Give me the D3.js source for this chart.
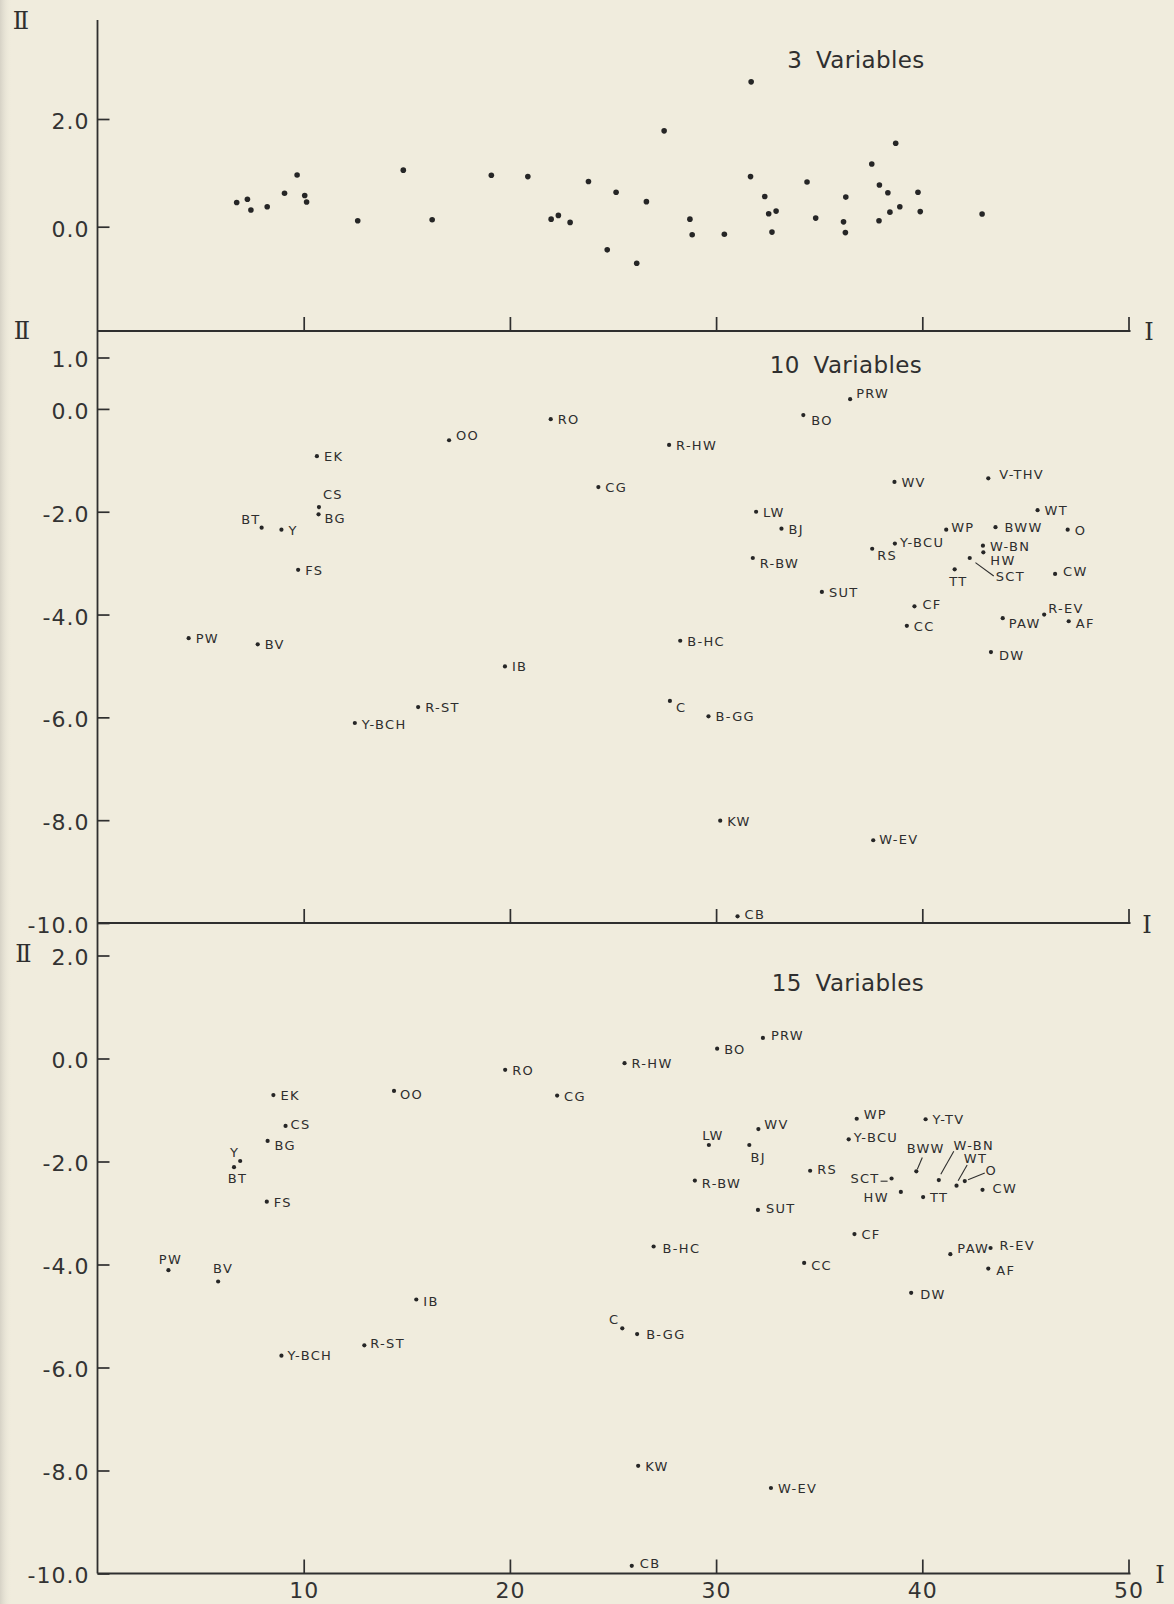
<!DOCTYPE html>
<html>
<head>
<meta charset="utf-8">
<script src="https://cdn.jsdelivr.net/npm/d3@7"></script>
<style>
  html, body { margin: 0; padding: 0; background: #f0ecdd; }
  svg { display: block; }
  .ink { color: #2f2f2f; }
  .axis-line { stroke: #2f2f2f; stroke-width: 1.8; fill: none; }
  .tick line { stroke-width: 1.7; }
  .tick text { font-family: "DejaVu Sans", sans-serif; font-size: 22px; letter-spacing: 1px; fill: #333; }
  .title { font-family: "DejaVu Sans", sans-serif; font-size: 23px; fill: #2f2f2f; word-spacing: 6px; letter-spacing: 0.4px; }
  .roman { font-family: "DejaVu Serif", "Liberation Serif", serif; font-size: 24px; fill: #2f2f2f; }
  .lbl { font-family: "DejaVu Sans", sans-serif; font-size: 13px; letter-spacing: 1.3px; fill: #2e2e2e; }
  .dot { fill: #262626; }
  .leader { stroke: #2e2e2e; stroke-width: 1.1; }
</style>
</head>
<body>
<svg id="chart" width="1174" height="1604"></svg>
<script>
// Ordination scores of the stands on axes I and II,
// computed from 3, 10 and 15 site variables.

// 3 variables (unlabelled stands)
const scores3I  = [6.75, 7.27, 7.44, 8.23, 9.07, 9.68, 10.05, 10.14, 12.62, 14.83,
                   16.23, 19.10, 20.87, 22.00, 22.35, 22.92, 23.81, 25.15, 24.72, 26.15,
                   26.62, 27.48, 28.73, 28.84, 30.40, 31.70, 31.67, 32.36, 32.55, 32.91,
                   32.71, 34.41, 34.83, 36.29, 36.18, 36.27, 37.55, 37.92, 38.71, 38.33,
                   37.90, 38.43, 38.91, 39.79, 39.90, 42.90];
const scores3II = [0.45, 0.51, 0.31, 0.37, 0.62, 0.96, 0.58, 0.46, 0.11, 1.05,
                   0.13, 0.955, 0.93, 0.14, 0.21, 0.08, 0.84, 0.64, -0.43, -0.68,
                   0.465, 1.78, 0.14, -0.15, -0.14, 2.69, 0.93, 0.56, 0.24, 0.29,
                   -0.10, 0.83, 0.16, 0.55, 0.09, -0.11, 1.165, 0.775, 1.55, 0.63,
                   0.11, 0.27, 0.37, 0.64, 0.28, 0.236];

// 10 variables
const stands10 = ["EK", "CS", "BG", "BT", "Y", "FS", "OO", "RO", "PW", "BV",
                  "CG", "PRW", "BO", "R-HW", "WV", "V-THV", "LW", "BJ", "R-BW", "SUT",
                  "RS", "Y-BCU", "WP", "BWW", "WT", "O", "W-BN", "HW", "SCT", "TT",
                  "CW", "CF", "CC", "PAW", "R-EV", "AF", "B-HC", "DW", "IB", "R-ST",
                  "Y-BCH", "C", "B-GG", "KW", "W-EV", "CB"];
const scores10I  = [10.64, 10.74, 10.72, 7.96, 8.92, 9.73, 17.05, 21.98, 4.42, 7.77,
                    24.29, 36.50, 34.23, 27.72, 38.65, 43.20, 31.94, 33.17, 31.78, 35.13,
                    37.57, 38.67, 41.16, 43.55, 45.59, 47.05, 42.94, 42.96, 42.30, 41.57,
                    46.44, 39.62, 39.25, 43.90, 45.91, 47.10, 28.26, 43.33, 19.76, 15.55,
                    12.48, 27.76, 29.63, 30.20, 37.62, 31.04];
const scores10II = [-0.92, -1.91, -2.05, -2.31, -2.35, -3.13, -0.61, -0.20, -4.46, -4.58,
                    -1.52, 0.19, -0.12, -0.70, -1.42, -1.35, -2.00, -2.33, -2.90, -3.56,
                    -2.72, -2.62, -2.35, -2.30, -1.97, -2.35, -2.66, -2.79, -2.90, -3.12,
                    -3.21, -3.84, -4.22, -4.07, -4.00, -4.13, -4.51, -4.73, -5.01, -5.80,
                    -6.11, -5.68, -5.98, -8.01, -8.39, -9.87];

// 15 variables
const stands15 = ["EK", "CS", "BG", "Y", "BT", "FS", "OO", "RO", "CG", "PW",
                  "BV", "IB", "R-ST", "Y-BCH", "PRW", "BO", "R-HW", "WP", "Y-TV", "WV",
                  "LW", "BJ", "Y-BCU", "RS", "R-BW", "SUT", "SCT", "HW", "TT", "BWW",
                  "W-BN", "WT", "O", "CW", "CF", "B-HC", "PAW", "R-EV", "CC", "AF",
                  "DW", "C", "B-GG", "KW", "W-EV", "CB"];
const scores15I  = [8.53, 9.12, 8.25, 6.92, 6.62, 8.21, 14.38, 19.77, 22.29, 3.44,
                    5.85, 15.46, 12.94, 8.92, 32.27, 30.05, 25.56, 36.82, 40.16, 32.05,
                    29.65, 31.61, 36.43, 34.56, 28.97, 32.03, 38.51, 38.96, 40.04, 39.71,
                    40.80, 41.66, 42.06, 42.92, 36.71, 26.97, 41.36, 43.31, 34.27, 43.20,
                    39.46, 25.45, 26.17, 26.22, 32.66, 25.91];
const scores15II = [-0.71, -1.31, -1.60, -1.99, -2.11, -2.78, -0.63, -0.22, -0.72, -4.11,
                    -4.33, -4.68, -5.57, -5.77, 0.40, 0.19, -0.09, -1.17, -1.18, -1.37,
                    -1.68, -1.68, -1.57, -2.18, -2.37, -2.94, -2.33, -2.59, -2.69, -2.19,
                    -2.36, -2.47, -2.38, -2.55, -3.41, -3.65, -3.80, -3.68, -3.97, -4.08,
                    -4.55, -5.24, -5.35, -7.91, -8.34, -9.85];

// Axis ticks and titles
const xTickValues = [10, 20, 30, 40, 50];
const yTicks3  = [2, 0];
const yTicks10 = [1, 0, -2, -4, -6, -8, -10];
const yTicks15 = [2, 0, -2, -4, -6, -8, -10];
const panelTitles = ["3 Variables", "10 Variables", "15 Variables"];
const axisNameI = "I";
const axisNameII = "\u2161";

// Label placement: [dx, dy, anchor] relative to the point (default to the right)
const place10 = {
  "CS": [4, -8], "BG": [6, 9], "BT": [-1, -4, "end"], "OO": [7, 0], "PRW": [6, -1],
  "BO": [8, 10], "V-THV": [11, 1], "R-BW": [7, 10], "RS": [5, 11], "Y-BCU": [5, 3],
  "WP": [5, 2], "BWW": [9, 5], "HW": [7, 13], "SCT": [26, 23], "TT": [3.6, 17, "middle"],
  "CW": [8, 2], "CF": [8, 3], "PAW": [6, 10], "R-EV": [4, -2], "AF": [7, 7],
  "DW": [8, 8], "Y-BCH": [7, 6], "C": [6, 11], "CB": [7, 3], "W-EV": [6, 4]
};
const leaders10 = { "SCT": [5.7, 4.6, 24, 18] };

const place15 = {
  "CS": [5, 3], "BG": [7, 9], "Y": [-1, -4, "end"], "BT": [3.6, 16, "middle"], "OO": [6, 8],
  "PW": [2, -6, "middle"], "BV": [5, -8, "middle"], "IB": [7, 6], "R-ST": [6, 3], "Y-BCH": [6, 4],
  "PRW": [8, 2], "WP": [7, 0], "WV": [6, 0], "LW": [4, -5, "middle"], "BJ": [9, 17, "middle"],
  "Y-BCU": [5, 3], "RS": [7, 3], "R-BW": [7, 7], "SUT": [8, 3], "SCT": [-12, 5, "end"],
  "HW": [-12, 10, "end"], "BWW": [9.4, -18, "middle"], "W-BN": [35, -30, "middle"],
  "WT": [19, -22.7, "middle"], "O": [20.7, -6], "CW": [10, 3], "B-HC": [9, 7], "PAW": [7, -1],
  "R-EV": [9, 2], "CC": [7, 7], "AF": [8, 6], "DW": [9, 6], "C": [-3, -4, "end"],
  "B-GG": [9, 5], "CB": [8, 2]
};
const leaders15 = {
  "SCT": [-11, 2.7, -4, 2.7], "BWW": [6, -13.7, 1, -2], "W-BN": [2, -5.7, 15, -28.7],
  "WT": [1.6, -5, 10.6, -20.7], "O": [3.3, -1.3, 20, -8]
};

const svg = d3.select("#chart");

// faint darker edge along the left side of the sheet
const defs = svg.append("defs");
const grad = defs.append("linearGradient").attr("id", "edge").attr("x1", 0).attr("x2", 1);
grad.append("stop").attr("offset", 0).attr("stop-color", "#d6d2c6");
grad.append("stop").attr("offset", 1).attr("stop-color", "#f0ecdd").attr("stop-opacity", 0);
svg.append("rect").attr("width", 1174).attr("height", 1604).attr("fill", "#f0ecdd");
svg.append("rect").attr("width", 12).attr("height", 1604).attr("fill", "url(#edge)");

const x = d3.scaleLinear().domain([0, 50]).range([97.5, 1128.5]);

const panels = [
  { title: panelTitles[0], I: scores3I, II: scores3II, names: null, ticks: yTicks3,
    y: d3.scaleLinear().domain([0, 2]).range([226.7, 119]), top: 20, bottom: 331,
    titleX: 856, titleY: 68, r: 2.8, xLabels: false,
    romanII: [21, 29], romanI: [1149, 340] },
  { title: panelTitles[1], I: scores10I, II: scores10II, names: stands10, ticks: yTicks10,
    y: d3.scaleLinear().domain([-10, 1]).range([923, 357.5]), top: 331, bottom: 923,
    titleX: 846, titleY: 373, r: 2.1, xLabels: false, place: place10, leaders: leaders10,
    romanII: [22, 339], romanI: [1147, 933] },
  { title: panelTitles[2], I: scores15I, II: scores15II, names: stands15, ticks: yTicks15,
    y: d3.scaleLinear().domain([-10, 2]).range([1573.5, 955.5]), top: 923, bottom: 1573.5,
    titleX: 848, titleY: 991, r: 2.1, xLabels: true, place: place15, leaders: leaders15,
    romanII: [23.5, 962], romanI: [1160, 1583] }
];

panels.forEach(p => {
  const g = svg.append("g").attr("class", "ink");

  // axis II (vertical) and axis I (horizontal)
  g.append("line").attr("class", "axis-line")
    .attr("x1", x(0)).attr("x2", x(0)).attr("y1", p.top).attr("y2", p.bottom);
  g.append("line").attr("class", "axis-line")
    .attr("x1", x(0)).attr("x2", x(50) + 2).attr("y1", p.bottom).attr("y2", p.bottom);

  const yAxis = d3.axisLeft(p.y).tickValues(p.ticks).tickSize(-12).tickPadding(8)
    .tickFormat(d => d.toFixed(1));
  g.append("g").attr("transform", `translate(${x(0)},0)`).call(yAxis)
    .call(a => a.select(".domain").remove())
    .call(a => a.selectAll("text").attr("dy", "0.43em"))
    .attr("font-family", null).attr("font-size", null);

  const xAxis = d3.axisBottom(x).tickValues(xTickValues).tickSize(-14).tickPadding(9)
    .tickFormat(p.xLabels ? d3.format("d") : () => "");
  g.append("g").attr("transform", `translate(0,${p.bottom})`).call(xAxis)
    .call(a => a.select(".domain").remove())
    .attr("font-family", null).attr("font-size", null);

  // axis names
  g.append("text").attr("class", "roman").attr("text-anchor", "middle")
    .attr("x", p.romanII[0]).attr("y", p.romanII[1]).text(axisNameII);
  g.append("text").attr("class", "roman").attr("text-anchor", "middle")
    .attr("x", p.romanI[0]).attr("y", p.romanI[1]).text(axisNameI);

  // panel title
  g.append("text").attr("class", "title").attr("text-anchor", "middle")
    .attr("x", p.titleX).attr("y", p.titleY).text(p.title);

  const rows = p.I.map((v, i) => ({ I: v, II: p.II[i], name: p.names ? p.names[i] : null }));

  g.selectAll("circle.dot").data(rows).join("circle")
    .attr("class", "dot")
    .attr("cx", d => x(d.I)).attr("cy", d => p.y(d.II)).attr("r", p.r);

  if (p.names) {
    const lab = rows.filter(d => d.name);
    g.selectAll("text.lbl").data(lab).join("text")
      .attr("class", "lbl")
      .attr("x", d => x(d.I) + ((p.place[d.name] || [7, 5])[0]))
      .attr("y", d => p.y(d.II) + ((p.place[d.name] || [7, 5])[1]))
      .attr("text-anchor", d => (p.place[d.name] || [])[2] || "start")
      .text(d => d.name);

    const lead = lab.filter(d => p.leaders[d.name]);
    g.selectAll("line.leader").data(lead).join("line")
      .attr("class", "leader")
      .attr("x1", d => x(d.I) + p.leaders[d.name][0])
      .attr("y1", d => p.y(d.II) + p.leaders[d.name][1])
      .attr("x2", d => x(d.I) + p.leaders[d.name][2])
      .attr("y2", d => p.y(d.II) + p.leaders[d.name][3]);
  }
});
</script>
</body>
</html>
